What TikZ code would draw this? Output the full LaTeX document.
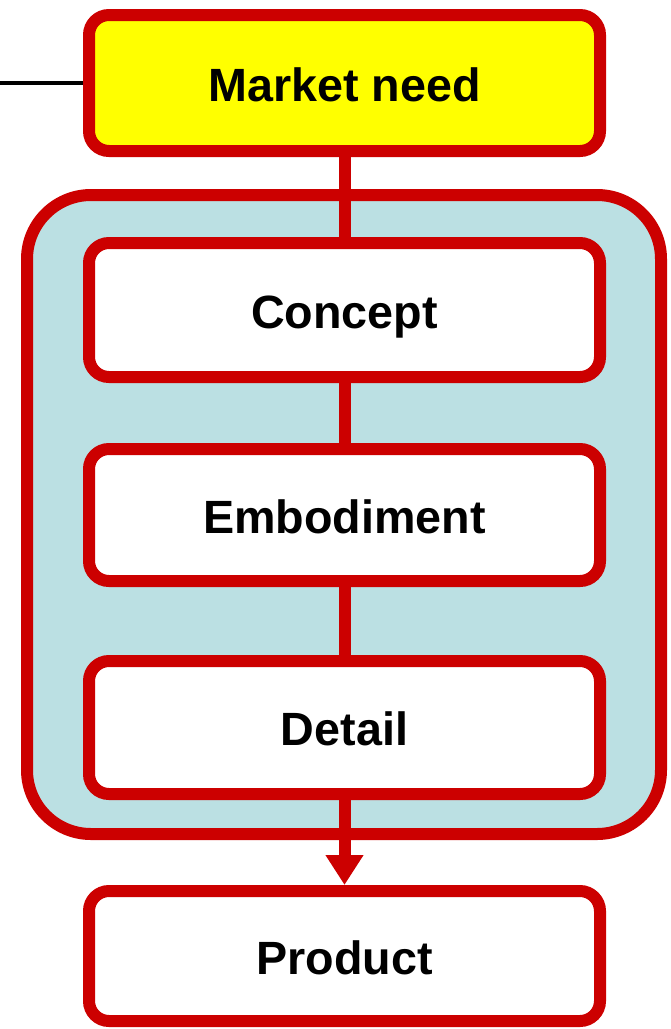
\documentclass[tikz,border=0pt]{standalone}
\usepackage{fontspec}
\setmainfont{Liberation Sans}
\usetikzlibrary{arrows.meta}
\definecolor{boxred}{HTML}{CC0000}
\definecolor{boxyellow}{HTML}{FFFF00}
\definecolor{panelblue}{HTML}{BBE0E3}
\begin{document}
\begin{tikzpicture}[x=0.75pt,y=-0.75pt,
  stage/.style={draw=boxred, line width=9pt, fill=white, rounded corners=15pt,
    minimum width=511*0.75pt, minimum height=134*0.75pt, inner sep=0pt,
    text height=27.5pt, text depth=0pt,
    font=\fontsize{35}{40}\selectfont\bfseries, text=black},
  link/.style={draw=boxred, line width=9pt},
  panel/.style={draw=boxred, line width=9pt, fill=panelblue, rounded corners=48pt}]
\useasboundingbox (0,0) rectangle (671,1029);
\path[panel] (27,195) rectangle (661,834);
\node[stage, fill=boxyellow, minimum height=136*0.75pt] (need) at (344.5,83) {Market need};
\node[stage] (concept) at (344.5,310) {Concept};
\node[stage, minimum height=132*0.75pt] (embod) at (344.5,515) {Embodiment};
\node[stage, minimum height=133*0.75pt] (detail) at (344.5,727.5) {Detail};
\node[stage, minimum height=130*0.75pt] (product) at (344.5,956) {Product};
\draw[link] (need.south) -- (concept.north);
\draw[link] (concept.south) -- (embod.north);
\draw[link] (embod.south) -- (detail.north);
\draw[link, -{Triangle[length=22.5pt, width=27pt]}] (detail.south) -- (product.north);
\coordinate (lineend) at (0,83);
\draw[line width=3pt, black] (lineend) -- (need.west);
\end{tikzpicture}
\end{document}
